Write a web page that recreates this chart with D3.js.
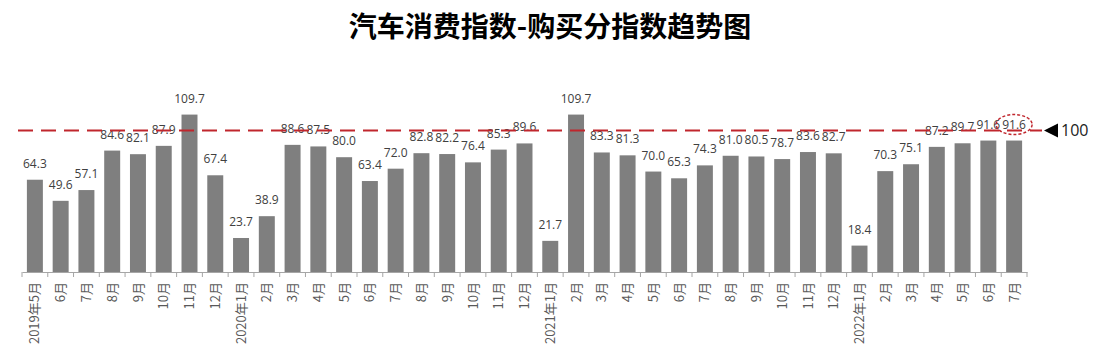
<!DOCTYPE html>
<html><head><meta charset="utf-8">
<script src="https://cdn.jsdelivr.net/npm/d3@7"></script>
<style>body{margin:0;background:#fff}svg{display:block}</style>
</head><body>
<script>
const categories = ["2019年5月","6月","7月","8月","9月","10月","11月","12月",
 "2020年1月","2月","3月","4月","5月","6月","7月","8月","9月","10月","11月","12月",
 "2021年1月","2月","3月","4月","5月","6月","7月","8月","9月","10月","11月","12月",
 "2022年1月","2月","3月","4月","5月","6月","7月"];
const values = [64.3,49.6,57.1,84.6,82.1,87.9,109.7,67.4,
 23.7,38.9,88.6,87.5,80.0,63.4,72.0,82.8,82.2,76.4,85.3,89.6,
 21.7,109.7,83.3,81.3,70.0,65.3,74.3,81.0,80.5,78.7,83.6,82.7,
 18.4,70.3,75.1,87.2,89.7,91.6,91.6];
const referenceValue = 100;
const title = "汽车消费指数-购买分指数趋势图";

const W = 1099, H = 363;
const svg = d3.select("body").append("svg").attr("width", W).attr("height", H)
  .style("font-family", "'Noto Sans CJK SC','Noto Sans',sans-serif");

const x = d3.scaleBand().domain(categories.map((c,i)=>i)).range([22, 1027]).paddingInner(0.38).paddingOuter(0.19);
const y = d3.scaleLinear().domain([0, 110]).range([272, 272 - 110*1.435]);

svg.append("text").attr("x", 550).attr("y", 37).attr("text-anchor", "middle")
  .attr("font-size", 28).attr("font-weight", "bold").attr("fill", "#000").text(title);

svg.selectAll("rect.bar").data(values).enter().append("rect").attr("class","bar")
  .attr("x", (d,i)=>x(i)).attr("width", x.bandwidth())
  .attr("y", d=>y(d)).attr("height", d=>y(0)-y(d)).attr("fill", "#7f7f7f");

// axis
const axis = d3.axisBottom(x).tickSize(0).tickFormat(i=>categories[i]);
const gx = svg.append("g").attr("transform", `translate(0,${y(0)})`).call(axis);
gx.select(".domain").attr("stroke", "#a6a6a6");
gx.selectAll(".tick text").attr("transform", "rotate(-90)").attr("text-anchor", "end")
  .attr("x", -10).attr("y", 0).attr("dy", "0.35em").attr("font-size", 13).attr("fill", "#595959")
  .style("font-family", "'Noto Sans CJK SC',sans-serif");
// boundary ticks
const bounds = d3.range(categories.length + 1).map(i => 22 + i*(1005/categories.length));
gx.selectAll("line.bt").data(bounds).enter().append("line").attr("class","bt")
  .attr("x1", d=>d).attr("x2", d=>d).attr("y1", 0).attr("y2", 5).attr("stroke", "#a6a6a6");

// value labels
svg.selectAll("text.val").data(values).enter().append("text").attr("class","val")
  .attr("x", (d,i)=>x(i)+x.bandwidth()/2).attr("y", d=>y(d)-12)
  .attr("text-anchor","middle").attr("font-size", 12).attr("fill", "#404040")
  .style("font-family", "'Open Sans','Noto Sans',sans-serif").text(d=>d.toFixed(1));

// reference line
const yr = y(referenceValue) + 2;
svg.append("line").attr("x1", 18).attr("x2", 1042).attr("y1", yr).attr("y2", yr)
  .attr("stroke", "#c0262d").attr("stroke-width", 2).attr("stroke-dasharray", "15,8");
svg.append("path").attr("d", `M1044,${yr} L1058,${yr-7} L1058,${yr+7} Z`).attr("fill", "#000");
svg.append("text").attr("x", 1061).attr("y", yr).attr("dy", "0.35em").attr("font-size", 16)
  .attr("fill", "#222").style("font-family","'Open Sans',sans-serif").text(referenceValue);

// highlight ellipse on last label
const li = values.length - 1;
svg.append("ellipse").attr("cx", x(li)+x.bandwidth()/2).attr("cy", y(values[li]) - 16)
  .attr("rx", 18).attr("ry", 10).attr("fill", "none").attr("stroke", "#c0262d")
  .attr("stroke-width", 1.5).attr("stroke-dasharray", "3,2");
</script>
</body></html>
